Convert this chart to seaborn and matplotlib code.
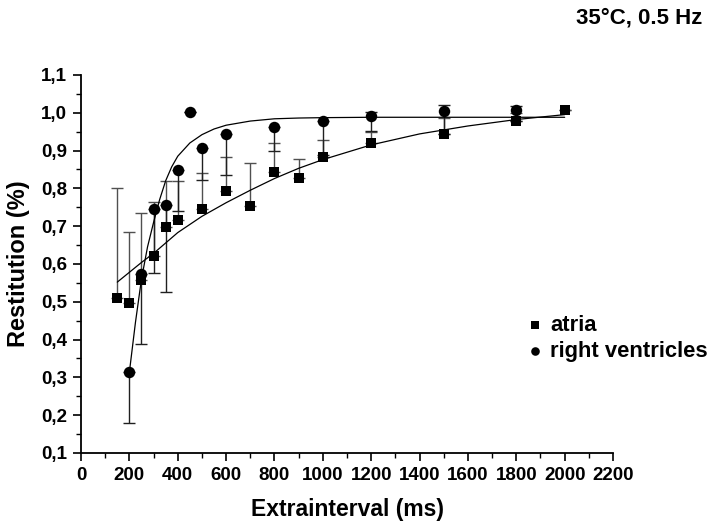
import matplotlib
matplotlib.use("Agg")
import matplotlib.pyplot as plt
import numpy as np
import seaborn as sns
from matplotlib.ticker import MultipleLocator, FuncFormatter

sns.set_theme(style="ticks")
plt.rcParams["font.family"] = ["Liberation Sans", "DejaVu Sans"]
plt.rcParams["font.weight"] = "bold"
plt.rcParams["text.color"] = "black"
plt.rcParams["axes.labelcolor"] = "black"

# measured points
atria_x = [150, 200, 250, 300, 350, 400, 500, 600, 700, 800, 900, 1000, 1200, 1500, 1800, 2000]
atria_y = [0.509, 0.496, 0.558, 0.621, 0.699, 0.715, 0.746, 0.793, 0.752, 0.842, 0.828, 0.884,
           0.919, 0.945, 0.978, 1.006]
atria_err_up = [0.293, 0.189, 0.176, 0.142, 0.121, 0.105, 0.095, 0.089, 0.114, 0.077, 0.049,
                0.044, 0.031, 0.040, 0.020, 0.0]

rv_x = [200, 250, 300, 350, 400, 450, 500, 600, 800, 1000, 1200, 1500, 1800]
rv_y = [0.314, 0.574, 0.745, 0.757, 0.849, 1.001, 0.906, 0.944, 0.961, 0.979, 0.991, 1.005, 1.007]
rv_err_lo = [0.135, 0.186, 0.170, 0.230, 0.110, 0.0, 0.084, 0.109, 0.062, 0.090, 0.040, 0.060, 0.030]
rv_err_hi = [0.0, 0.0, 0.0, 0.0, 0.0, 0.0, 0.0, 0.0, 0.0, 0.0, 0.012, 0.016, 0.012]

# fitted curves
atria_fit_x = [150, 200, 250, 300, 400, 500, 600, 700, 800, 900, 1000, 1200, 1400, 1600, 1800, 2000]
atria_fit_y = [0.552, 0.578, 0.604, 0.628, 0.683, 0.726, 0.762, 0.795, 0.826, 0.853, 0.876,
               0.915, 0.944, 0.965, 0.982, 0.995]
rv_fit_x = [200, 225, 250, 275, 300, 325, 350, 375, 400, 450, 500, 550, 600, 700, 800, 900,
            1000, 1200, 1600, 2000]
rv_fit_y = [0.314, 0.445, 0.560, 0.645, 0.710, 0.770, 0.820, 0.857, 0.885, 0.920, 0.942, 0.957,
            0.967, 0.978, 0.984, 0.986, 0.987, 0.988, 0.988, 0.988]

fig = plt.figure(figsize=(7.17, 5.24), dpi=100)
ax = fig.add_axes([0.113, 0.1355, 0.742, 0.7215])

ax.errorbar(atria_x, atria_y, yerr=[np.zeros(len(atria_err_up)), atria_err_up], fmt="none",
            ecolor="#505050", elinewidth=1.0, capsize=4, capthick=1.0, zorder=1)
ax.errorbar(rv_x, rv_y, yerr=[rv_err_lo, rv_err_hi], fmt="none",
            ecolor="#202020", elinewidth=1.0, capsize=4, capthick=1.0, zorder=1)

sns.lineplot(x=atria_fit_x, y=atria_fit_y, ax=ax, color="black", lw=0.9, sort=False,
             estimator=None, zorder=2)
sns.lineplot(x=rv_fit_x, y=rv_fit_y, ax=ax, color="black", lw=0.9, sort=False,
             estimator=None, zorder=2)

sns.scatterplot(x=atria_x, y=atria_y, ax=ax, marker="s", color="black", s=52,
                edgecolor="black", linewidth=0, label="atria", zorder=3)
sns.scatterplot(x=rv_x, y=rv_y, ax=ax, marker="o", color="black", s=68,
                edgecolor="black", linewidth=0, label="right ventricles", zorder=3)

ax.set_xlim(0, 2200)
ax.set_ylim(0.1, 1.1)
ax.xaxis.set_major_locator(MultipleLocator(200))
ax.xaxis.set_minor_locator(MultipleLocator(100))
ax.yaxis.set_major_locator(MultipleLocator(0.1))
ax.yaxis.set_minor_locator(MultipleLocator(0.05))
ax.yaxis.set_major_formatter(FuncFormatter(lambda v, p: f"{v:.1f}".replace(".", ",")))
ax.tick_params(which="major", direction="out", length=6, width=1.2, colors="black",
               labelsize=13.5, pad=4)
ax.tick_params(which="minor", direction="out", length=3.5, width=1.0, colors="black")
for lab in ax.get_xticklabels() + ax.get_yticklabels():
    lab.set_fontweight("bold")

sns.despine(ax=ax)
ax.spines["left"].set_linewidth(1.3)
ax.spines["bottom"].set_linewidth(1.3)
ax.spines["left"].set_color("black")
ax.spines["bottom"].set_color("black")

ax.set_xlabel("Extrainterval (ms)", fontsize=16.5, fontweight="bold", labelpad=10)
ax.set_ylabel("Restitution (%)", fontsize=17, fontweight="bold", labelpad=8)

leg = ax.legend(loc="center left", bbox_to_anchor=(0.82, 0.303), frameon=False,
                borderpad=0, handlelength=0.6, handletextpad=0.4, labelspacing=0.25,
                prop={"size": 15.8, "weight": "bold"}, markerscale=0.75)

fig.text(0.98, 0.965, "35°C, 0.5 Hz", ha="right", va="center", fontsize=16, fontweight="bold")

fig.savefig("out.png", dpi=100)
